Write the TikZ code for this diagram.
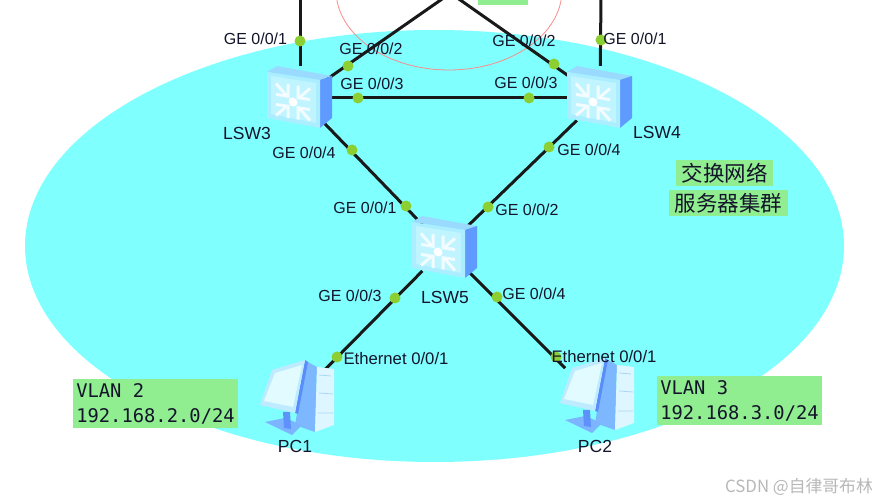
\documentclass[tikz,border=0pt]{standalone}
\usepackage{fontspec}
\setmainfont{Liberation Sans}
\newfontfamily\cjkfont{Noto Sans CJK SC}
\newfontfamily\vlanfont{DejaVu Sans Mono}
\definecolor{netcyan}{HTML}{80FFFF}
\definecolor{portgreen}{HTML}{8CCF32}
\definecolor{boxgreen}{HTML}{90EE90}
\definecolor{inktext}{HTML}{14142A}
\tikzset{
  port/.style={circle,fill=portgreen,inner sep=0pt,minimum size=11pt},
  lab/.style={inner sep=0pt,text=inktext,font=\fontsize{16}{18}\selectfont},
  ethlab/.style={inner sep=0pt,text=inktext,font=\fontsize{16.7}{18}\selectfont},
  devlab/.style={inner sep=0pt,text=inktext,font=\fontsize{17.5}{18}\selectfont},
  link/.style={line width=3pt,black!90!white},
  swhub/.style={circle,minimum size=64pt,inner sep=0pt},
  pchub/.style={circle,minimum size=84pt,inner sep=0pt},
  cjkbox/.style={fill=boxgreen,inner sep=0pt,text=inktext,font=\cjkfont\fontsize{21.5}{24}\selectfont},
  vlanbox/.style={fill=boxgreen,inner sep=0pt,text=inktext,align=left,font=\vlanfont\fontsize{18.8}{25}\selectfont},
}
\newcommand{\hubarrow}[2]{%
  \draw[white,line width=3pt,opacity=.8] (#1*17,#2*16) -- (#1*7,#2*6);
  \draw[white,line width=3pt,opacity=.8] (#1*17,#2*5) -- (#1*5,#2*5) -- (#1*5,#2*17);
}
\newcommand{\swicon}[2]{%
  \begin{scope}[shift={(#1,#2)}]
    \fill[color={rgb,255:red,155;green,218;blue,255}] (-33,-26) -- (-23,-32) -- (32,-22) -- (20,-18) -- cycle;
    \fill[color={rgb,255:red,95;green,155;blue,255}] (20,-18) -- (32,-22) -- (32,20) -- (20,30) -- cycle;
    \fill[color={rgb,255:red,170;green,238;blue,255}] (-33,-26) -- (20,-18) -- (20,30) -- (-33,20) -- cycle;
    \fill[color={rgb,255:red,192;green,244;blue,255}] (-29,-22) -- (16,-15) -- (16,25) -- (-29,16) -- cycle;
    \begin{scope}[shift={(-7,4)},yslant=-.15]
      \hubarrow{-1}{-1}\hubarrow{1}{-1}\hubarrow{-1}{1}\hubarrow{1}{1}
      \fill[white] (0,0) circle (4.5);
    \end{scope}
  \end{scope}}
\newcommand{\pcicon}[2]{%
  \begin{scope}[shift={(#1,#2)}]
    \fill[color={rgb,255:red,125;green,184;blue,255}] (11,-39) -- (22,-33) -- (20,32) -- (0,25) -- cycle;
    \fill[color={rgb,255:red,222;green,246;blue,255}] (22,-33) -- (39,-31) -- (39,25) -- (20,32) -- cycle;
    \draw[color={rgb,255:red,170;green,215;blue,245},line width=.8pt] (24,-25) -- (36,-24) (24,-7) -- (38,-6) (23,13) -- (38,13);
    \fill[color={rgb,255:red,125;green,180;blue,255}] (-30,22) -- (-10,18) -- (7,25) -- (-3,35) -- cycle;
    \fill[color={rgb,255:red,95;green,145;blue,250}] (-12,12) -- (-5,12) -- (-4,29) -- (-11,28) -- cycle;
    \fill[color={rgb,255:red,90;green,140;blue,250}] (10,-40) -- (13,-38) -- (3,14) -- (0,13) -- cycle;
    \fill[color={rgb,255:red,190;green,235;blue,255}] (-23,-30) -- (10,-40) -- (0,13) -- (-35,5) -- cycle;
    \fill[color={rgb,255:red,225;green,251;blue,255}] (-20,-27) -- (7,-35) -- (-2,7) -- (-31,1) -- cycle;
  \end{scope}}
\begin{document}
\begin{tikzpicture}[x=1pt,y=-1pt]
\useasboundingbox (0,0) rectangle (876,502);
\clip (0,0) rectangle (876,502);
\fill[white] (0,0) rectangle (876,502);
\fill[netcyan] (434.5,246) ellipse [x radius=409.5,y radius=216];
\draw[color={rgb,255:red,250;green,140;blue,140},line width=.8pt] (449,-10) ellipse [x radius=113,y radius=80];
\fill[boxgreen] (478,-2) rectangle (528,5);

\node[swhub] (s3) at (300,98) {};
\node[swhub] (s4) at (600,98) {};
\node[swhub] (s5) at (445,248) {};
\node[pchub] (p1) at (295,400) {};
\node[pchub] (p2) at (595,398) {};
\coordinate (up3) at (300,-3);
\coordinate (up4) at (601,-3);
\coordinate (peakL) at (445,-3);
\coordinate (peakR) at (456,-3);

\draw[link] (s3) -- (up3);
\draw[link] (s4) -- (up4);
\draw[link] (s3) -- (peakL);
\draw[link] (s4) -- (peakR);
\draw[link] (s3) -- (s4);
\draw[link] (s3) -- (s5);
\draw[link] (s4) -- (s5);
\draw[link] (s5) -- (p1);
\draw[link] (s5) -- (p2);

\node[port] (d1) at (300,41) {};
\node[port] (d2) at (348,66) {};
\node[port] (d3) at (358,98) {};
\node[port] (d4) at (352,150) {};
\node[port] (d5) at (601,40) {};
\node[port] (d6) at (554,64) {};
\node[port] (d7) at (529,98) {};
\node[port] (d8) at (549,147) {};
\node[port] (d9) at (406,206) {};
\node[port] (d10) at (488,207) {};
\node[port] (d11) at (395,298) {};
\node[port] (d12) at (497,297) {};
\node[port] (d13) at (337,357) {};
\node[port] (d14) at (556,357) {};

\node[lab] (l1) at (255.5,39) {GE 0/0/1};
\node[lab] (l2) at (371,49) {GE 0/0/2};
\node[lab] (l3) at (372,84) {GE 0/0/3};
\node[lab] (l4) at (304,153) {GE 0/0/4};
\node[lab] (l5) at (524,41) {GE 0/0/2};
\node[lab] (l6) at (526,83) {GE 0/0/3};
\node[lab] (l7) at (635,39) {GE 0/0/1};
\node[lab] (l8) at (589,150) {GE 0/0/4};
\node[lab] (l9) at (365,208) {GE 0/0/1};
\node[lab] (l10) at (527,210) {GE 0/0/2};
\node[lab] (l11) at (350,296) {GE 0/0/3};
\node[lab] (l12) at (534,294) {GE 0/0/4};

\swicon{300}{98}
\swicon{600}{98}
\swicon{445}{248}
\pcicon{295}{400}
\pcicon{595}{398}

\node[ethlab] (l13) at (396,359) {Ethernet 0/0/1};
\node[ethlab] (l14) at (604,357) {Ethernet 0/0/1};

\node[devlab] (n3) at (247,133) {LSW3};
\node[devlab] (n4) at (657,132) {LSW4};
\node[devlab] (n5) at (445,297) {LSW5};
\node[devlab] (n6) at (295,446) {PC1};
\node[devlab] (n7) at (595,446) {PC2};

\node[cjkbox,minimum width=97pt,minimum height=26pt] (c1) at (724.5,173) {交换网络};
\node[cjkbox,minimum width=119pt,minimum height=26pt] (c2) at (728.5,203) {服务器集群};
\node[vlanbox,minimum width=165pt,minimum height=49pt] (v1) at (155.5,403.5) {VLAN 2\\192.168.2.0/24};
\node[vlanbox,minimum width=165pt,minimum height=49pt] (v2) at (739.5,401) {VLAN 3\\192.168.3.0/24};
\node[inner sep=0pt,text=black!28,font=\cjkfont\fontsize{16.8}{18}\selectfont] (wm) at (799,487) {CSDN @自律哥布林};
\end{tikzpicture}
\end{document}
